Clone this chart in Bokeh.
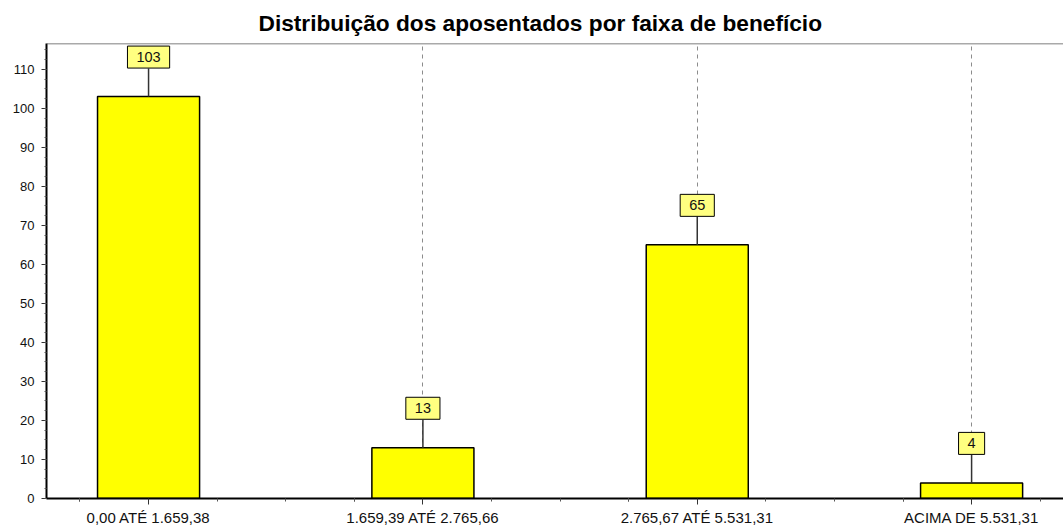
from math import pi
from bokeh.plotting import figure
from bokeh.models import FixedTicker, Range1d, Label, Span, ColumnDataSource
from bokeh.embed import file_html
from bokeh.resources import INLINE

title_text = "Distribuição dos aposentados por faixa de benefício"
categories = ["0,00 ATÉ 1.659,38", "1.659,39 ATÉ 2.765,66",
              "2.765,67 ATÉ 5.531,31", "ACIMA DE 5.531,31"]
values = [103, 13, 65, 4]
y_ticks = [0, 10, 20, 30, 40, 50, 60, 70, 80, 90, 100, 110]
y_max = 116.6

x = list(range(1, len(categories) + 1))
src = ColumnDataSource(dict(x=x, top=values, cat=categories))

FONT = "Liberation Sans"

p = figure(width=1063, height=528, output_backend="svg", toolbar_location=None,
           x_range=Range1d(0.628, 4.335), y_range=Range1d(0, y_max),
           min_border_left=46, min_border_right=0, min_border_top=42,
           min_border_bottom=30)

p.title.text = title_text
p.title.text_font = FONT
p.title.text_font_size = "22.7px"
p.title.text_font_style = "bold"
p.title.text_color = "black"
p.title.align = "left"
p.title.offset = 212
p.title.standoff = 15

p.outline_line_color = None
p.background_fill_color = "white"
p.border_fill_color = "white"

# grids
p.ygrid.visible = False
p.xgrid.ticker = FixedTicker(ticks=x)
p.xgrid.grid_line_color = "#8c8c8c"
p.xgrid.grid_line_dash = "4 4"
p.xgrid.grid_line_width = 1

# x axis
minor_x = [c + d for c in [0] + x for d in (-0.25, 0.25, 0.5, 0.75)]
p.xaxis.ticker = FixedTicker(ticks=x, minor_ticks=minor_x)
p.xaxis.major_label_overrides = {xi: c for xi, c in zip(x, categories)}
p.xaxis.major_label_text_font = FONT
p.xaxis.major_label_text_font_size = "15px"
p.xaxis.major_label_text_color = "#111111"
p.xaxis.major_label_standoff = 4
p.xaxis.major_tick_out = 6
p.xaxis.major_tick_in = 0
p.xaxis.minor_tick_out = 3
p.xaxis.minor_tick_in = 0
p.xaxis.axis_line_width = 2
p.xaxis.axis_line_color = "black"
p.xaxis.major_tick_line_color = "#333333"
p.xaxis.minor_tick_line_color = "#555555"

# y axis
minor_y = [i * 2.5 for i in range(int(y_max / 2.5) + 1)]
p.yaxis.ticker = FixedTicker(ticks=y_ticks, minor_ticks=minor_y)
p.yaxis.major_label_text_font = FONT
p.yaxis.major_label_text_font_size = "13px"
p.yaxis.major_label_text_color = "#111111"
p.yaxis.major_label_standoff = 7
p.yaxis.major_tick_out = 5
p.yaxis.major_tick_in = 0
p.yaxis.minor_tick_out = 2
p.yaxis.minor_tick_in = 0
p.yaxis.axis_line_width = 2
p.yaxis.axis_line_color = "black"
p.yaxis.major_tick_line_color = "#333333"
p.yaxis.minor_tick_line_color = "#555555"

# top border
p.add_layout(Span(location=y_max, dimension="width", line_color="#555555",
                  line_width=1.5))

# bars
p.vbar(x="x", top="top", width=0.372, source=src, fill_color="#FFFF00",
       line_color="black", line_width=1.5)

# leader lines
p.ray(x="x", y="top", length=28, length_units="screen", angle=pi / 2,
      line_color="#333333", line_width=1.5, source=src)

# value labels
for xi, v in zip(x, values):
    p.add_layout(Label(x=xi, y=v, text=str(v), text_align="center",
                       text_baseline="middle", y_offset=39.5,
                       text_font=FONT, text_font_size="14.5px",
                       text_color="#111111",
                       background_fill_color="#FFFF80",
                       border_line_color="black", border_line_width=1,
                       padding={"left": 9, "right": 9, "top": 6, "bottom": 6}))

open("out.html", "w").write(file_html(p, INLINE))
